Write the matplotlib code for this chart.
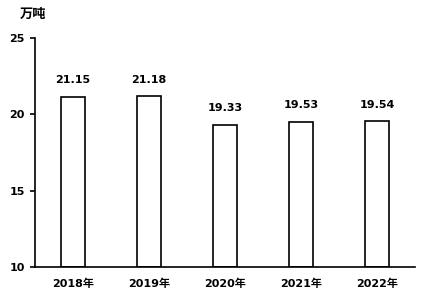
import matplotlib
matplotlib.use('Agg')
import matplotlib.pyplot as plt

plt.rcParams['font.family'] = ['DejaVu Sans', 'Noto Sans CJK SC']

years = ['2018年', '2019年', '2020年', '2021年', '2022年']
values = [21.15, 21.18, 19.33, 19.53, 19.54]
yticks = [10, 15, 20, 25]

W, H = 424, 302
fig = plt.figure(figsize=(W / 100, H / 100), dpi=100)
ax = fig.add_axes([35 / W, (H - 267) / H, 380 / W, 229 / H])

x = range(len(years))
ax.bar(x, [v - 10 for v in values], bottom=10, width=0.31,
       facecolor='white', edgecolor='black', linewidth=1.2)
for i, v in enumerate(values):
    ax.text(i, v + 0.75, f'{v:.2f}', ha='center', va='bottom',
            fontsize=8, fontweight='bold')

ax.set_xlim(-0.5, len(years) - 0.5)
ax.set_ylim(10, 25)
ax.set_yticks(yticks)
ax.set_yticklabels([str(t) for t in yticks], fontsize=8, fontweight='bold')
ax.set_xticks(list(x))
ax.set_xticklabels(years, fontsize=8, fontweight='bold')
ax.tick_params(axis='x', length=0, pad=8)
ax.tick_params(axis='y', length=3.6, width=1.2, direction='out', pad=3.6)
for s in ['top', 'right']:
    ax.spines[s].set_visible(False)
ax.spines['left'].set_linewidth(1.2)
ax.spines['bottom'].set_linewidth(1.2)

fig.text(20 / W, 1 - 14 / H, '万吨', fontsize=9.5, fontweight='bold', va='center', ha='left')

fig.savefig('out.png', dpi=100)
